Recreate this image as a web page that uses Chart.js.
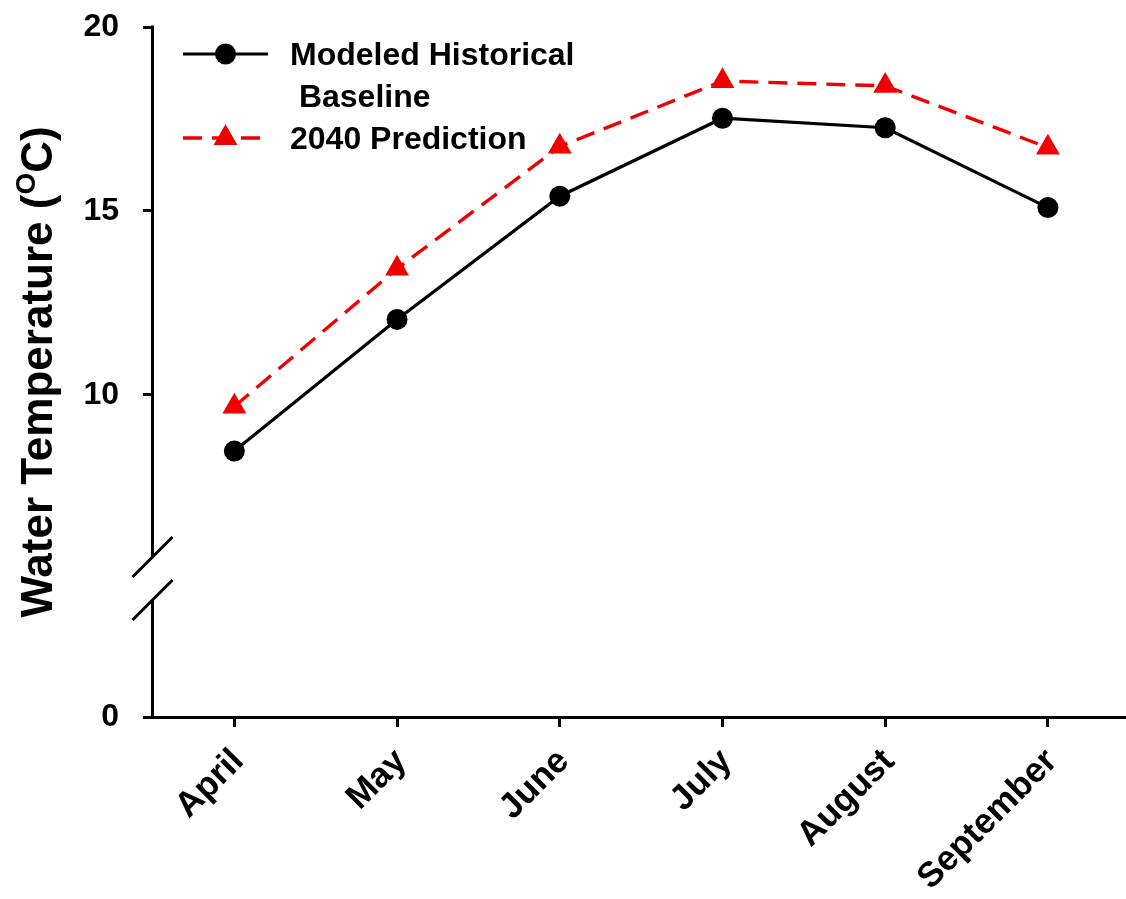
<!DOCTYPE html>
<html>
<head>
<meta charset="utf-8">
<title>Water Temperature</title>
<script src="https://cdn.jsdelivr.net/npm/chart.js@4/dist/chart.umd.min.js"></script>
<style>
  html, body { margin: 0; padding: 0; background: #ffffff; }
  #wrap { width: 1126px; height: 899px; position: relative; }
</style>
</head>
<body>
<div id="wrap"><canvas id="chart" width="1126" height="899"></canvas></div>
<script>
// Monthly mean water temperature (°C)
const months = ['April', 'May', 'June', 'July', 'August', 'September'];
const baselineTemps = [8.47, 12.05, 15.40, 17.52, 17.26, 15.09];
const prediction2040Temps = [9.68, 13.43, 16.75, 18.53, 18.40, 16.72];
const seriesNames = ['Modeled Historical\n Baseline', '2040 Prediction'];

// y axis is broken: an upper segment carrying the data and a short lower segment holding 0
const upperTicks = [10, 15, 20];
const lowerTicks = [0];
const upperRange = { min: 5.59, max: 20 };
const lowerRange = { min: 0, max: 4.35 };
const titleParts = ['Water Temperature (', 'O', 'C)']; // middle part is a superscript

const FONT = '"Liberation Sans", Arial, Helvetica, sans-serif';

const toPoints = arr => arr.map((v, i) => ({ x: i, y: v }));

// Scales keep no extra room for their edge labels, so the plot area is set by layout padding alone
const noEdgePadding = s => {
  s.paddingLeft = 0; s.paddingRight = 0; s.paddingTop = 0; s.paddingBottom = 0;
};

// Draws the y axis line in two pieces with the double-slash break marks
const axisBreak = {
  id: 'axisBreak',
  afterDraw(chart, args, o) {
    const ctx = chart.ctx;
    const yU = chart.scales.y, yL = chart.scales.yLow;
    const x = chart.chartArea.left - 0.5;
    const resume = yU.bottom + o.gap;
    ctx.save();
    ctx.strokeStyle = '#000';
    ctx.lineWidth = 3;
    ctx.lineCap = 'butt';
    ctx.beginPath();
    ctx.moveTo(x, yU.top - 1.5);
    ctx.lineTo(x, yU.bottom);
    ctx.moveTo(x, resume);
    ctx.lineTo(x, yL.bottom + 1.5);
    for (const cy of [yU.bottom, resume]) {
      ctx.moveTo(x - o.half, cy + o.half);
      ctx.lineTo(x + o.half, cy - o.half);
    }
    ctx.stroke();
    ctx.restore();
  }
};

// Rotated y axis title with a superscript degree mark
const axisTitle = {
  id: 'axisTitle',
  afterDraw(chart, args, o) {
    const ctx = chart.ctx;
    ctx.save();
    ctx.translate(o.x, o.y);
    ctx.rotate(-Math.PI / 2);
    ctx.fillStyle = '#000';
    ctx.textAlign = 'left';
    ctx.textBaseline = 'alphabetic';
    const main = 'bold ' + o.size + 'px ' + FONT;
    const sup = 'bold ' + Math.round(o.size * 0.63) + 'px ' + FONT;
    ctx.font = main; const w1 = ctx.measureText(titleParts[0]).width;
    ctx.font = sup;  const w2 = ctx.measureText(titleParts[1]).width;
    ctx.font = main; const w3 = ctx.measureText(titleParts[2]).width;
    let cx = -(w1 + w2 + w3) / 2;
    ctx.font = main; ctx.fillText(titleParts[0], cx, 0); cx += w1;
    ctx.font = sup;  ctx.fillText(titleParts[1], cx, -o.raise); cx += w2;
    ctx.font = main; ctx.fillText(titleParts[2], cx, 0);
    ctx.restore();
  }
};

// Legend in the upper left: line sample, marker and (possibly two-line) label
const seriesLegend = {
  id: 'seriesLegend',
  afterDraw(chart, args, o) {
    const ctx = chart.ctx;
    let base = o.firstBaseline;
    chart.data.datasets.forEach(ds => {
      const lines = ds.label.split('\n');
      const cy = base - o.markerLift;
      ctx.save();
      ctx.strokeStyle = ds.borderColor;
      ctx.lineWidth = ds.borderWidth;
      ctx.setLineDash(ds.borderDash || []);
      ctx.beginPath();
      ctx.moveTo(o.x, cy);
      ctx.lineTo(o.x + o.lineLen, cy);
      ctx.stroke();
      ctx.setLineDash([]);
      ctx.fillStyle = ds.pointBackgroundColor;
      ctx.strokeStyle = ds.pointBackgroundColor;
      Chart.helpers.drawPoint(ctx, {
        pointStyle: ds.pointStyle, radius: ds.pointRadius, rotation: 0, borderWidth: 0
      }, o.x + o.lineLen / 2, cy);
      ctx.fillStyle = '#000';
      ctx.font = 'bold ' + o.size + 'px ' + FONT;
      ctx.textAlign = 'left';
      ctx.textBaseline = 'alphabetic';
      lines.forEach((t, k) => ctx.fillText(t, o.textX, base + k * o.lineHeight));
      ctx.restore();
      base += lines.length * o.lineHeight;
    });
  }
};

const tickGrid = {
  display: true,
  drawOnChartArea: false,
  drawTicks: true,
  tickLength: 10,
  tickWidth: 3,
  tickColor: '#000'
};

new Chart(document.getElementById('chart'), {
  type: 'line',
  data: {
    datasets: [
      {
        label: seriesNames[0],
        data: toPoints(baselineTemps),
        yAxisID: 'y',
        borderColor: '#000000',
        backgroundColor: '#000000',
        borderWidth: 3.2,
        pointStyle: 'circle',
        pointRadius: 10.5,
        pointBackgroundColor: '#000000',
        pointBorderWidth: 0,
        tension: 0,
        clip: false
      },
      {
        label: seriesNames[1],
        data: toPoints(prediction2040Temps),
        yAxisID: 'y',
        borderColor: '#f00000',
        backgroundColor: '#f00000',
        borderWidth: 3.4,
        borderDash: [19, 10],
        pointStyle: 'triangle',
        pointRadius: 13.8,
        pointBackgroundColor: '#f00000',
        pointBorderWidth: 0,
        tension: 0,
        clip: false
      }
    ]
  },
  options: {
    responsive: false,
    animation: false,
    devicePixelRatio: 1,
    layout: { autoPadding: false, padding: { top: 27, right: 0, bottom: 0, left: 0 } },
    plugins: {
      legend: { display: false },
      tooltip: { enabled: false },
      axisBreak: { gap: 43, half: 20 },
      axisTitle: { x: 52, y: 372, size: 44, raise: 17 },
      seriesLegend: {
        x: 183, lineLen: 85, textX: 290, firstBaseline: 65,
        lineHeight: 42, markerLift: 11, size: 32
      }
    },
    scales: {
      x: {
        type: 'linear',
        position: 'bottom',
        min: -0.5,
        max: 5.48,
        afterBuildTicks: s => { s.ticks = months.map((m, i) => ({ value: i })); },
        afterFit: s => { s.height = 182; noEdgePadding(s); },
        ticks: {
          autoSkip: false,
          minRotation: 45,
          maxRotation: 45,
          padding: 14,
          labelOffset: 4,
          color: '#000',
          font: { family: FONT, size: 35, weight: 'bold' },
          callback: v => months[v]
        },
        grid: tickGrid,
        border: { display: true, width: 3, color: '#000' }
      },
      y: {
        type: 'linear',
        position: 'left',
        stack: 'temp',
        stackWeight: 530,
        weight: 1,
        min: upperRange.min,
        max: upperRange.max,
        afterBuildTicks: s => { s.ticks = upperTicks.map(v => ({ value: v })); },
        afterFit: s => { s.width = 153; noEdgePadding(s); },
        ticks: {
          padding: 24,
          color: '#000',
          font: { family: FONT, size: 32, weight: 'bold' }
        },
        grid: tickGrid,
        border: { display: false }
      },
      yLow: {
        type: 'linear',
        position: 'left',
        stack: 'temp',
        stackWeight: 160,
        weight: 0,
        min: lowerRange.min,
        max: lowerRange.max,
        afterBuildTicks: s => { s.ticks = lowerTicks.map(v => ({ value: v })); },
        afterFit: s => { s.width = 153; noEdgePadding(s); },
        ticks: {
          padding: 24,
          color: '#000',
          font: { family: FONT, size: 32, weight: 'bold' }
        },
        grid: tickGrid,
        border: { display: false }
      }
    }
  },
  plugins: [axisBreak, axisTitle, seriesLegend]
});
</script>
</body>
</html>
